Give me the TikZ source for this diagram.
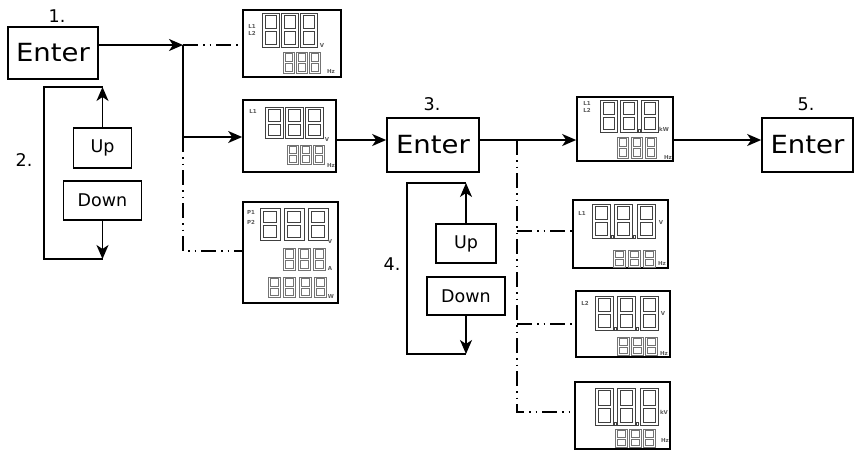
\documentclass[tikz,border=0pt]{standalone}
\usepackage{fontspec}
\setmainfont{DejaVu Sans}
\usetikzlibrary{arrows.meta}
% row of hollow seven-segment "8" digits: x y w h n pitch style
\newcommand{\digs}[7]{%
  \foreach \k in {1,...,#5}{%
    \pgfmathsetmacro\xx{#1+(\k-1)*#6}%
    \draw[#7] (\xx,#2) rectangle ++(#3,#4);
    \draw[#7] ({\xx+0.17*#3},{#2+0.15*#3}) rectangle ({\xx+0.83*#3},{#2+#4/2-0.08*#3});
    \draw[#7] ({\xx+0.17*#3},{#2+#4/2+0.08*#3}) rectangle ({\xx+0.83*#3},{#2+#4-0.15*#3});
  }}
\newcommand{\dpt}[3]{\draw[#3] (#1,#2) rectangle ++(2.2,-2.2);}
\begin{document}
\begin{tikzpicture}[x=1pt,y=-1pt,
  box/.style={draw,line width=1.7pt,inner sep=0pt,anchor=center},
  enterbox/.style={box,font=\fontsize{25}{25}\selectfont},
  keybox/.style={box,line width=1.5pt,font=\fontsize{17.5}{17.5}\selectfont},
  disp/.style={draw,line width=1.7pt,inner sep=0pt},
  step lbl/.style={font=\fontsize{17.5}{17.5}\selectfont,inner sep=0pt},
  arr/.style={line width=1.7pt,-{Stealth[length=14pt,width=12pt,inset=4pt]}},
  conn/.style={line width=1.7pt},
  dd/.style={line width=1.7pt,dash pattern=on 15pt off 5pt on 1.5pt off 5pt on 1.5pt off 5pt},
  big/.style={black!75,line width=0.75pt},
  sml/.style={black!55,line width=0.65pt},
  tiny/.style={font=\fontsize{5.5}{5.5}\selectfont\bfseries,text=black!65,inner sep=0pt}
]
\useasboundingbox (0,0) rectangle (856,451);

% ---- main keys ----
\node[enterbox,minimum width=90pt,minimum height=52pt] (e1) at (53,53) {\scalebox{1.1}[1]{Enter}};
\node[enterbox,minimum width=92pt,minimum height=54pt] (e3) at (433,145) {\scalebox{1.1}[1]{Enter}};
\node[enterbox,minimum width=91pt,minimum height=54pt] (e5) at (807.5,145) {\scalebox{1.1}[1]{Enter}};
\node[keybox,minimum width=58pt,minimum height=40pt] (up1) at (102.5,148) {Up};
\node[keybox,minimum width=78pt,minimum height=39pt] (dn1) at (102.5,200.5) {Down};
\node[keybox,minimum width=60pt,minimum height=39pt] (up2) at (466,243.5) {Up};
\node[keybox,minimum width=78pt,minimum height=38pt] (dn2) at (466,296) {Down};

\node[step lbl] (s1) at (57,16) {1.};
\node[step lbl] (s2) at (24,160) {2.};
\node[step lbl] (s3) at (432,104) {3.};
\node[step lbl] (s4) at (392,264) {4.};
\node[step lbl] (s5) at (806,104) {5.};

% ---- displays ----
\node[disp,minimum width=98pt,minimum height=67pt] (d1) at (292,43.5) {};
\node[disp,minimum width=93pt,minimum height=72pt] (d2) at (289.5,136) {};
\node[disp,minimum width=95pt,minimum height=101pt] (d3) at (290.5,252.5) {};
\node[disp,minimum width=96pt,minimum height=64pt] (d4) at (625,129) {};
\node[disp,minimum width=95pt,minimum height=68pt] (d5) at (620.5,234) {};
\node[disp,minimum width=94pt,minimum height=66pt] (d6) at (623,324) {};
\node[disp,minimum width=95pt,minimum height=67pt] (d7) at (622.5,415.5) {};

% display 1
\digs{262}{13}{17}{34}{3}{19}{big}
\digs{283}{52}{11}{21}{3}{13}{sml}
\node[tiny] (d1a) at (252,26) {L1};
\node[tiny] (d1b) at (252,33) {L2};
\node[tiny] (d1c) at (322,45) {V};
\node[tiny] (d1d) at (331,71) {Hz};
% display 2
\digs{265}{107}{18}{31}{3}{20}{big}
\digs{287}{145}{11}{19}{3}{13}{sml}
\node[tiny] (d2a) at (253,111) {L1};
\node[tiny] (d2b) at (327,139) {V};
\node[tiny] (d2c) at (331,165) {Hz};
% display 3
\digs{260}{208}{20}{32}{3}{24}{big}
\digs{283}{248}{12}{22}{3}{15}{sml}
\digs{268}{277}{12}{20}{4}{15.5}{sml}
\node[tiny] (d3a) at (251,212) {P1};
\node[tiny] (d3b) at (251,222) {P2};
\node[tiny] (d3c) at (330,241) {V};
\node[tiny] (d3d) at (330,268) {A};
\node[tiny] (d3e) at (331,296) {W};
% display 4
\digs{600}{100}{17}{32}{3}{20.5}{big}
\dpt{638}{132}{big}
\digs{617}{137}{11.5}{21}{3}{14}{sml}
\node[tiny] (d4a) at (587,103) {L1};
\node[tiny] (d4b) at (587,110) {L2};
\node[tiny] (d4c) at (664,129) {kW};
\node[tiny] (d4d) at (668,157) {Hz};
% display 5
\digs{592}{204}{18}{34}{3}{22.5}{big}
\dpt{611}{238}{big}\dpt{633.5}{238}{big}
\digs{613}{250}{12}{17}{3}{15}{sml}
\node[tiny] (d5a) at (582,213) {L1};
\node[tiny] (d5b) at (661,222) {V};
\node[tiny] (d5c) at (662,263) {Hz};
% display 6
\digs{595}{296}{18}{34}{3}{22.5}{big}
\dpt{614}{330}{big}\dpt{636.5}{330}{big}
\digs{617}{337}{12}{18}{3}{14}{sml}
\node[tiny] (d6a) at (585,303) {L2};
\node[tiny] (d6b) at (663,313) {V};
\node[tiny] (d6c) at (664,353) {Hz};
% display 7
\digs{595}{388}{18}{37}{3}{22.5}{big}
\dpt{614}{425}{big}\dpt{636.5}{425}{big}
\digs{615}{429}{12}{18}{3}{14}{sml}
\node[tiny] (d7a) at (664,412) {kV};
\node[tiny] (d7b) at (665,440) {Hz};

% ---- connectors ----
\coordinate (j1) at (183,45);
\coordinate (j2) at (183,137);
\coordinate (j3) at (183,251);
\draw[arr] (e1.east |- j1) -- (j1);
\draw[dd] (j1) -- (d1.west |- j1);
\draw[conn] (j1) -- (j2);
\draw[arr] (j2) -- (d2.west |- j2);
\draw[dd] (j2) -- (j3) -- (d3.west |- j3);

\coordinate (r2) at (0,140);
\draw[arr] (d2.east |- r2) -- (e3.west |- r2);
\draw[arr] (e3.east |- r2) -- (d4.west |- r2);
\draw[arr] (d4.east |- r2) -- (e5.west |- r2);

\coordinate (k0) at (517,140);
\coordinate (k1) at (517,231);
\coordinate (k2) at (517,324);
\coordinate (k3) at (517,412);
\draw[dd] (k0) -- (k3) -- (d7.west |- k3);
\draw[dd] (k1) -- (d5.west |- k1);
\draw[dd] (k2) -- (d6.west |- k2);

% loop 1
\coordinate (l1t) at (44,87);
\coordinate (l1b) at (44,259);
\draw[conn] (up1.north |- l1t) -- (l1t) -- (l1b) -- (dn1.south |- l1b);
\draw[arr] (up1.north) -- (up1.north |- l1t);
\draw[arr] (dn1.south) -- (dn1.south |- l1b);
% loop 2
\coordinate (l2t) at (407,183);
\coordinate (l2b) at (407,354);
\draw[conn] (up2.north |- l2t) -- (l2t) -- (l2b) -- (dn2.south |- l2b);
\draw[arr] (up2.north) -- (up2.north |- l2t);
\draw[arr] (dn2.south) -- (dn2.south |- l2b);
\end{tikzpicture}
\end{document}
